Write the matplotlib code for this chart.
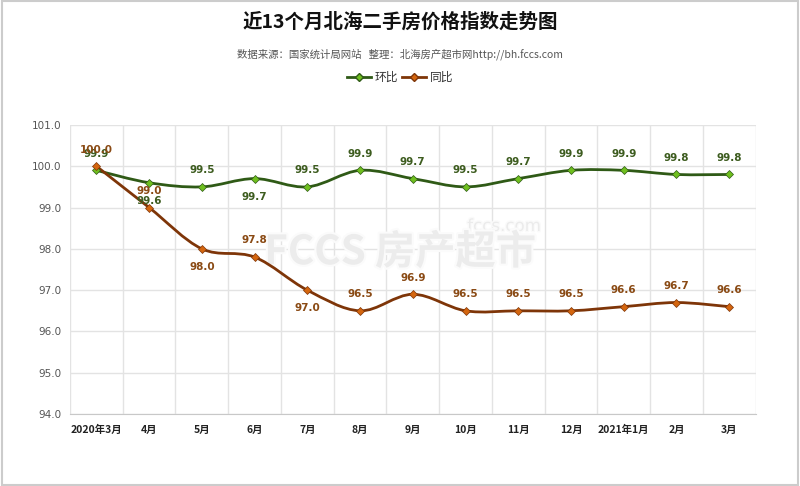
import matplotlib.pyplot as plt
from matplotlib.path import Path
from matplotlib.patches import PathPatch, Rectangle
import matplotlib.patheffects as pe

plt.rcParams['font.family'] = ['Noto Sans CJK SC', 'DejaVu Sans']

months = ["2020年3月", "4月", "5月", "6月", "7月", "8月", "9月", "10月",
          "11月", "12月", "2021年1月", "2月", "3月"]
huanbi = [99.9, 99.6, 99.5, 99.7, 99.5, 99.9, 99.7, 99.5, 99.7, 99.9, 99.9, 99.8, 99.8]
tongbi = [100.0, 99.0, 98.0, 97.8, 97.0, 96.5, 96.9, 96.5, 96.5, 96.5, 96.6, 96.7, 96.6]
# which labels sit below the point
huanbi_below = [False, True, False, True, False, False, False, False, False, False, False, False, False]
tongbi_below = [False, False, True, False, True, False, False, False, False, False, False, False, False]

GREEN_LINE = "#2f5a16"
GREEN_MARK = "#6fbf1f"
GREEN_TXT = "#3d5c1f"
ORANGE_LINE = "#7e3508"
ORANGE_MARK = "#d4660f"
ORANGE_TXT = "#8a4a14"


def spline_path(xs, ys):
    # Catmull-Rom style curve as cubic bezier segments through the points
    pts = list(zip(xs, ys))
    verts = [pts[0]]
    codes = [Path.MOVETO]
    n = len(pts)
    for i in range(n - 1):
        p0 = pts[i - 1] if i > 0 else pts[i]
        p1 = pts[i]
        p2 = pts[i + 1]
        p3 = pts[i + 2] if i + 2 < n else pts[i + 1]
        c1 = (p1[0] + (p2[0] - p0[0]) / 6, p1[1] + (p2[1] - p0[1]) / 6)
        c2 = (p2[0] - (p3[0] - p1[0]) / 6, p2[1] - (p3[1] - p1[1]) / 6)
        verts += [c1, c2, p2]
        codes += [Path.CURVE4] * 3
    return Path(verts, codes)


fig = plt.figure(figsize=(8, 4.86), dpi=100)
fig.patches.append(Rectangle((0.002, 0.002), 0.996, 0.996, transform=fig.transFigure,
                             fill=False, edgecolor="#cccccc", linewidth=1.5))

ax = fig.add_axes([0.0875, 0.148, 0.857, 0.595])
x = list(range(len(months)))

# watermark, behind the lines
ax.text(0.63, 0.535, "fccs.com", transform=fig.transFigure, fontsize=12, color="#ebebeb",
        ha="center", va="center", zorder=1, family=["DejaVu Sans"],
        path_effects=[pe.withStroke(linewidth=2, foreground="#fafafa")])
ax.text(0.5, 0.48, "FCCS 房产超市", transform=fig.transFigure, fontsize=29, color="#ececec",
        ha="center", va="center", fontweight="bold", zorder=1,
        path_effects=[pe.withStroke(linewidth=3, foreground="#fbfbfb")])

for ys, lc, mc in [(huanbi, GREEN_LINE, GREEN_MARK), (tongbi, ORANGE_LINE, ORANGE_MARK)]:
    ax.add_patch(PathPatch(spline_path(x, ys), facecolor="none", edgecolor=lc, linewidth=2.0, zorder=3))
    ax.plot(x, ys, linestyle="none", marker="D", markersize=4, markerfacecolor=mc,
            markeredgecolor=lc, markeredgewidth=0.5, zorder=4)

for ys, below, tc in [(huanbi, huanbi_below, GREEN_TXT), (tongbi, tongbi_below, ORANGE_TXT)]:
    for xi, yi, b in zip(x, ys, below):
        ax.annotate(f"{yi:.1f}", (xi, yi), xytext=(0, -13 if b else 12), textcoords="offset points",
                    ha="center", va="center", fontsize=7.5, fontweight="bold", color=tc,
                    family=["DejaVu Sans"], zorder=5)

# legend handles
ax.plot([], [], color=GREEN_LINE, linewidth=2.0, marker="D", markersize=4,
        markerfacecolor=GREEN_MARK, markeredgecolor=GREEN_LINE, label="环比")
ax.plot([], [], color=ORANGE_LINE, linewidth=2.0, marker="D", markersize=4,
        markerfacecolor=ORANGE_MARK, markeredgecolor=ORANGE_LINE, label="同比")
fig.legend(loc="center", bbox_to_anchor=(0.5, 0.84), ncol=2, frameon=False, fontsize=8.5,
           handlelength=2.0, handletextpad=0.3, columnspacing=0.4, labelcolor="#333333")

ax.set_xlim(-0.5, len(months) - 0.5)
ax.set_ylim(94.0, 101.0)
ax.set_yticks([94, 95, 96, 97, 98, 99, 100, 101])
ax.set_yticklabels([f"{v:.1f}" for v in [94, 95, 96, 97, 98, 99, 100, 101]], fontsize=7.5,
                   color="#555555", family=["DejaVu Sans"])
ax.set_xticks(x)
ax.set_xticklabels(months, fontsize=7.5, fontweight="bold", color="#222222")
ax.set_xticks([i - 0.5 for i in range(len(months) + 1)], minor=True)
ax.tick_params(axis="x", which="both", length=0, pad=8)
ax.tick_params(axis="y", length=0, pad=6)
ax.grid(axis="y", color="#e3e3e3", linewidth=1)
ax.grid(axis="x", which="minor", color="#e3e3e3", linewidth=1)
ax.set_axisbelow(True)
for s in ["top", "right", "left"]:
    ax.spines[s].set_visible(False)
ax.spines["bottom"].set_color("#c8c8c8")
ax.patch.set_alpha(0)

fig.text(0.5, 0.955, "近13个月北海二手房价格指数走势图", ha="center", va="center",
         fontsize=14, fontweight="bold", color="#111111")
fig.text(0.5, 0.889, "数据来源：国家统计局网站   整理：北海房产超市网http://bh.fccs.com",
         ha="center", va="center", fontsize=7.5, color="#555555")

fig.savefig("out.png", dpi=100)
